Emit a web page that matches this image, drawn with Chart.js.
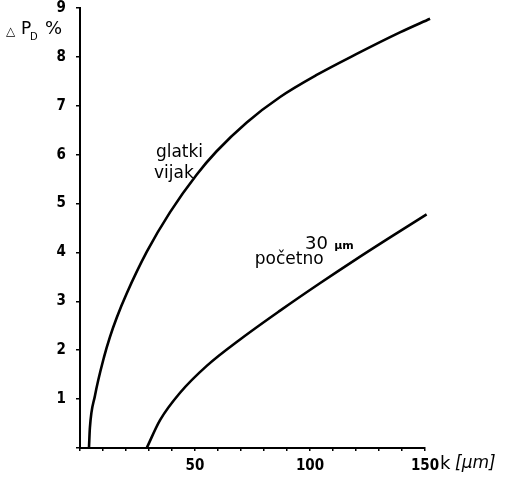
<!DOCTYPE html>
<html><head><meta charset="utf-8">
<script src="https://cdn.jsdelivr.net/npm/chart.js@4/dist/chart.umd.min.js"></script>
<style>html,body{margin:0;padding:0;background:#fff}</style>
</head><body>
<canvas id="c" width="507" height="478"></canvas>
<script>
// k [μm] values and ΔP_D [%] values
const glatkiK    = [3.9, 4.3, 6.5, 10.5, 13.0, 16.0, 20.3, 29.0, 39.1, 50.7, 59.4, 72.5, 87.0, 102.9, 120.3, 139.1, 152.2];
const glatkiVals = [0.0, 0.41, 1.07, 1.87, 2.27, 2.67, 3.16, 4.01, 4.82, 5.59, 6.07, 6.66, 7.18, 7.63, 8.06, 8.50, 8.78];
const pocetnoK    = [29.0, 34.8, 43.5, 55.1, 69.6, 87.0, 104.3, 120.3, 136.2, 150.7];
const pocetnoVals = [0.0, 0.57, 1.13, 1.68, 2.22, 2.81, 3.37, 3.87, 4.35, 4.78];
const xTickLabels = [50, 100, 150];
const yTickLabels = [1, 2, 3, 4, 5, 6, 7, 8, 9];

const toPts = (xs, ys) => xs.map((x, i) => ({x: x, y: ys[i]}));
const tickFont = {family: "'DejaVu Sans Condensed','DejaVu Sans',sans-serif", size: 15, weight: 'bold'};

const textPlugin = {
  id: 'texts',
  afterDraw(chart) {
    const ctx = chart.ctx, xs = chart.scales.x, ys = chart.scales.y;
    ctx.save();
    ctx.fillStyle = '#000';
    ctx.textBaseline = 'middle';
    ctx.textAlign = 'left';
    const f = "'DejaVu Sans',sans-serif";
    const put = (t, k, v, font) => { ctx.font = font; ctx.fillText(t, xs.getPixelForValue(k), ys.getPixelForValue(v)); };
    put('glatki', 33.0, 6.05, '17px ' + f);
    put('vijak', 32.2, 5.62, '17px ' + f);
    put('30', 97.8, 4.17, '18px ' + f);
    put('μm', 110.5, 4.13, 'bold 11px ' + f);
    put('početno', 76.0, 3.85, '17px ' + f);
    // y axis title
    ctx.font = '12px ' + f; ctx.fillText('△', 6, 32);
    ctx.font = '17px ' + f; ctx.fillText('P', 21, 30);
    ctx.font = '10px ' + f; ctx.fillText('D', 30, 37);
    ctx.font = '18px ' + f; ctx.fillText('%', 45, 29);
    // x axis title
    ctx.font = '18px ' + f; ctx.fillText('k', 440, 464);
    ctx.font = 'italic 17px ' + f; ctx.fillText('[μm]', 455, 464);
    ctx.restore();
  }
};

new Chart(document.getElementById('c'), {
  type: 'line',
  data: {
    datasets: [
      {label: 'glatki vijak', data: toPts(glatkiK, glatkiVals)},
      {label: '30 μm početno', data: toPts(pocetnoK, pocetnoVals)}
    ]
  },
  options: {
    responsive: false,
    animation: false,
    layout: {padding: {top: 8, right: 82, left: 0, bottom: 0}},
    elements: {
      line: {borderColor: '#000', borderWidth: 2.6, cubicInterpolationMode: 'monotone', fill: false},
      point: {radius: 0, hoverRadius: 0}
    },
    datasets: {line: {clip: false}},
    plugins: {legend: {display: false}, tooltip: {enabled: false}},
    scales: {
      x: {
        type: 'linear', min: 0, max: 150,
        afterFit: s => { s.height = 30; },
        border: {color: '#000', width: 2},
        grid: {drawOnChartArea: false, color: '#000', tickLength: 3, lineWidth: 1.5},
        ticks: {
          stepSize: 10, color: '#000', font: tickFont, padding: 6, maxRotation: 0, autoSkip: false,
          callback: v => xTickLabels.includes(v) ? String(v) : ''
        }
      },
      y: {
        type: 'linear', min: 0, max: 9,
        afterFit: s => { s.width = 80; s.paddingTop = 0; s.paddingBottom = 0; },
        border: {color: '#000', width: 2},
        grid: {drawOnChartArea: false, color: '#000', tickLength: 4, lineWidth: 1.5},
        ticks: {
          stepSize: 1, color: '#000', font: tickFont, padding: 10, autoSkip: false,
          callback: v => yTickLabels.includes(v) ? String(v) : ''
        }
      }
    }
  },
  plugins: [textPlugin]
});
</script>
</body></html>
